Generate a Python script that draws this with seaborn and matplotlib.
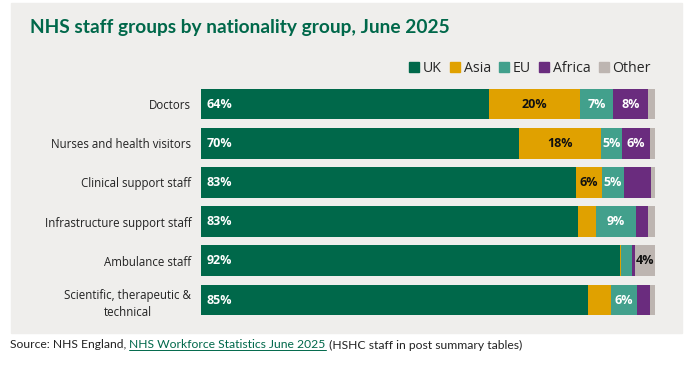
import matplotlib
matplotlib.use("Agg")
import matplotlib.pyplot as plt
import seaborn as sns
import pandas as pd
from matplotlib.patches import Rectangle
from matplotlib.lines import Line2D

categories = ["Doctors", "Nurses and health visitors", "Clinical support staff",
              "Infrastructure support staff", "Ambulance staff",
              "Scientific, therapeutic &\ntechnical"]
series = ["UK", "Asia", "EU", "Africa", "Other"]
uk = [63.5, 70.0, 82.6, 83.0, 92.2, 85.3]
asia = [20.0, 18.2, 5.7, 4.0, 0.3, 5.1]
eu = [7.3, 4.6, 4.9, 8.8, 2.4, 5.6]
africa = [7.7, 6.0, 5.9, 2.6, 0.7, 2.9]
other = [1.5, 1.2, 0.9, 1.6, 4.4, 1.1]
uk_labels = ["64%", "70%", "83%", "83%", "92%", "85%"]
asia_labels = ["20%", "18%", "6%", "", "", ""]
eu_labels = ["7%", "5%", "5%", "9%", "", "6%"]
africa_labels = ["8%", "6%", "", "", "", ""]
other_labels = ["", "", "", "", "4%", ""]

values = {"UK": uk, "Asia": asia, "EU": eu, "Africa": africa, "Other": other}
labels = {"UK": uk_labels, "Asia": asia_labels, "EU": eu_labels,
          "Africa": africa_labels, "Other": other_labels}
colors = {"UK": "#00684A", "Asia": "#E0A100", "EU": "#42A08C",
          "Africa": "#6A2C7E", "Other": "#BDB5B1"}
label_colors = {"UK": "white", "Asia": "#111111", "EU": "white",
                "Africa": "white", "Other": "#111111"}
title_color = "#00684A"
panel_color = "#EFEEEC"

sns.set_theme(style="white")
plt.rcParams["font.family"] = ["Open Sans", "DejaVu Sans"]

W, H = 693, 365
fig = plt.figure(figsize=(W / 100, H / 100), dpi=100)
fig.patch.set_facecolor("white")
fig.patches.append(Rectangle((11 / W, (H - 333) / H), 671 / W, 330 / H,
                             transform=fig.transFigure, color=panel_color,
                             zorder=-5))

ax = fig.add_axes([201 / W, (H - 319.6) / H, 454 / W, 235.2 / H])
ax.set_facecolor("none")
ax.set_zorder(2)

df = pd.DataFrame(values)
df["category"] = categories
cum = df[series].cumsum(axis=1)
starts = cum - df[series]

for s in reversed(series):
    tmp = pd.DataFrame({"category": categories, "end": cum[s]})
    sns.barplot(data=tmp, x="end", y="category", order=categories,
                color=colors[s], width=0.79, errorbar=None, ax=ax,
                orient="h", saturation=1, linewidth=0)

for s in series:
    for i, lab in enumerate(labels[s]):
        if not lab:
            continue
        if s == "UK":
            x, ha = starts[s][i] + 1.3, "left"
        else:
            x, ha = starts[s][i] + df[s][i] / 2, "center"
        ax.text(x, i, lab, ha=ha, va="center", fontsize=9,
                fontweight="bold", color=label_colors[s])

ax.set_xlim(0, 100)
ax.set_ylim(5.5, -0.5)
ax.set_xlabel("")
ax.set_ylabel("")
ax.set_xticks([])
for sp in ax.spines.values():
    sp.set_visible(False)
ax.tick_params(axis="y", length=0, pad=7, labelsize=8.3, labelcolor="#222222")
for t in ax.get_yticklabels():
    t.set_multialignment("center")
    t.set_linespacing(1.45)

handles = [Line2D([], [], marker="s", linestyle="none", markersize=7,
                  color=colors[s]) for s in series]
fig.legend(handles, series, loc="center right", ncol=5,
           bbox_to_anchor=(651 / W, 1 - 68 / H), frameon=False,
           fontsize=10.2, handlelength=0.7, handletextpad=0.25,
           columnspacing=0.6, borderpad=0, borderaxespad=0)

fig.text(30 / W, 1 - 27 / H, "NHS staff groups by nationality group, June 2025",
         fontsize=13.8, fontweight="bold", color=title_color, va="center",
         family=["Lato", "DejaVu Sans"])

# Source line
renderer = fig.canvas.get_renderer()
sy = 1 - 345 / H
t1 = fig.text(10 / W, sy, "Source: NHS England, ", fontsize=8.7, color="#222222",
              va="center", family=["Lato", "DejaVu Sans"])
bb = t1.get_window_extent(renderer)
t2 = fig.text(bb.x1 / W, sy, "NHS Workforce Statistics June 2025", fontsize=8.7,
              color="#00684A", va="center", family=["Lato", "DejaVu Sans"])
bb2 = t2.get_window_extent(renderer)
fig.lines.append(Line2D([bb2.x0 / W, bb2.x1 / W], [(bb2.y0 + 0.5) / H] * 2,
                        transform=fig.transFigure, color="#00684A", lw=0.7))
fig.text(bb2.x1 / W, sy, " (HSHC staff in post summary tables)", fontsize=8.7,
         color="#222222", va="center", family=["Lato", "DejaVu Sans"])

fig.savefig("out.png", dpi=100)
